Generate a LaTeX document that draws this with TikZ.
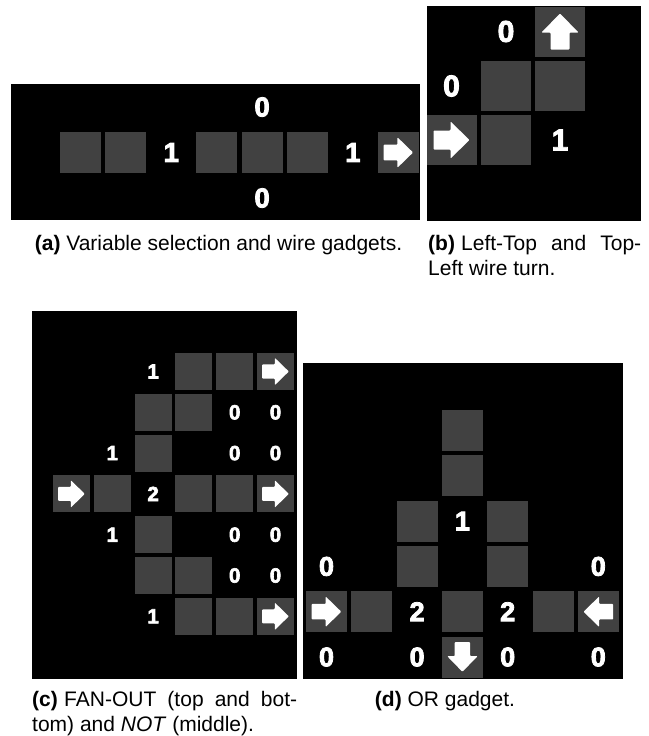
\documentclass[tikz,border=0pt]{standalone}
\usepackage{fontspec}
\setmainfont{Liberation Sans}
\newfontfamily\numfont{Liberation Sans}[BoldFeatures={FakeBold=3}]
\definecolor{tile}{HTML}{414141}

\tikzset{tnode/.style = {shape = rectangle,
                         fill = tile,
                         inner sep = 0pt,
                         minimum size = #1},
         lnode/.style = {text = white,
                         inner sep = 0pt,
                         font = \numfont\bfseries\fontsize{#1}{#1}\selectfont},
         board/.style = {fill = black},
         capnode/.style = {inner sep = 0pt,
                           anchor = base west,
                           font = \fontsize{21}{25}\selectfont},
         warrow/.pic = {\fill[white, rounded corners = 0.8pt]
                          (-0.36,0.19) -- (-0.02,0.19) -- (-0.02,0.37) -- (0.36,0)
                          -- (-0.02,-0.37) -- (-0.02,-0.19) -- (-0.36,-0.19) -- cycle;}}

\begin{document}
\begin{tikzpicture}[x = 1pt, y = -1pt]
  \useasboundingbox (0,0) rectangle (648,736);

  \fill[board] (11,84) rectangle (420,220);
  \node[tnode=41] (a1) at (80.5,152.5) {};
  \node[tnode=41] (a2) at (125.9,152.5) {};
  \node[lnode=27.5] (a3) at (171.3,152.5) {1};
  \node[tnode=41] (a4) at (216.7,152.5) {};
  \node[tnode=41] (a5) at (262.1,152.5) {};
  \node[tnode=41] (a6) at (307.5,152.5) {};
  \node[lnode=27.5] (a7) at (352.9,152.5) {1};
  \node[tnode=41] (a8) at (398.3,152.5) {};
  \node[lnode=27.5] (a9) at (262.1,107) {0};
  \node[lnode=27.5] (a10) at (262.1,198) {0};
  \pic[scale=41] at (a8) {warrow};

  \fill[board] (427,6) rectangle (641,221);
  \node[lnode=30] (b1) at (506,31.5) {0};
  \node[tnode=50] (b2) at (560,31.5) {};
  \node[lnode=30] (b3) at (451.5,86) {0};
  \node[tnode=50] (b4) at (506,86) {};
  \node[tnode=50] (b5) at (560,86) {};
  \node[tnode=50] (b6) at (451.5,140) {};
  \node[tnode=50] (b7) at (506,140) {};
  \node[lnode=30] (b8) at (560,140) {1};
  \pic[scale=50, rotate=90] at (b2) {warrow};
  \pic[scale=50] at (b6) {warrow};

  \fill[board] (32,311) rectangle (297,679);
  \node[lnode=20.5] (c1) at (153.1,371.5) {1};
  \node[tnode=37] (c2) at (193.9,371.5) {};
  \node[tnode=37] (c3) at (234.7,371.5) {};
  \node[tnode=37] (c4) at (275.5,371.5) {};
  \node[tnode=37] (c5) at (153.1,412.3) {};
  \node[tnode=37] (c6) at (193.9,412.3) {};
  \node[lnode=20.5] (c7) at (234.7,412.3) {0};
  \node[lnode=20.5] (c8) at (275.5,412.3) {0};
  \node[lnode=20.5] (c9) at (112.3,453.1) {1};
  \node[tnode=37] (c10) at (153.1,453.1) {};
  \node[lnode=20.5] (c11) at (234.7,453.1) {0};
  \node[lnode=20.5] (c12) at (275.5,453.1) {0};
  \node[tnode=37] (c13) at (71.5,493.9) {};
  \node[tnode=37] (c14) at (112.3,493.9) {};
  \node[lnode=20.5] (c15) at (153.1,493.9) {2};
  \node[tnode=37] (c16) at (193.9,493.9) {};
  \node[tnode=37] (c17) at (234.7,493.9) {};
  \node[tnode=37] (c18) at (275.5,493.9) {};
  \node[lnode=20.5] (c19) at (112.3,534.7) {1};
  \node[tnode=37] (c20) at (153.1,534.7) {};
  \node[lnode=20.5] (c21) at (234.7,534.7) {0};
  \node[lnode=20.5] (c22) at (275.5,534.7) {0};
  \node[tnode=37] (c23) at (153.1,575.5) {};
  \node[tnode=37] (c24) at (193.9,575.5) {};
  \node[lnode=20.5] (c25) at (234.7,575.5) {0};
  \node[lnode=20.5] (c26) at (275.5,575.5) {0};
  \node[lnode=20.5] (c27) at (153.1,616.3) {1};
  \node[tnode=37] (c28) at (193.9,616.3) {};
  \node[tnode=37] (c29) at (234.7,616.3) {};
  \node[tnode=37] (c30) at (275.5,616.3) {};
  \pic[scale=37] at (c4) {warrow};
  \pic[scale=37] at (c13) {warrow};
  \pic[scale=37] at (c18) {warrow};
  \pic[scale=37] at (c30) {warrow};

  \fill[board] (303,363) rectangle (623,679);
  \node[tnode=41] (d1) at (462.4,430.5) {};
  \node[tnode=41] (d2) at (462.4,475.8) {};
  \node[tnode=41] (d3) at (417.1,521.1) {};
  \node[lnode=27] (d4) at (462.4,521.1) {1};
  \node[tnode=41] (d5) at (507.7,521.1) {};
  \node[lnode=27] (d6) at (326.5,566.4) {0};
  \node[tnode=41] (d7) at (417.1,566.4) {};
  \node[tnode=41] (d8) at (507.7,566.4) {};
  \node[lnode=27] (d9) at (598.3,566.4) {0};
  \node[tnode=41] (d10) at (326.5,611.7) {};
  \node[tnode=41] (d11) at (371.8,611.7) {};
  \node[lnode=27] (d12) at (417.1,611.7) {2};
  \node[tnode=41] (d13) at (462.4,611.7) {};
  \node[lnode=27] (d14) at (507.7,611.7) {2};
  \node[tnode=41] (d15) at (553,611.7) {};
  \node[tnode=41] (d16) at (598.3,611.7) {};
  \node[lnode=27] (d17) at (326.5,657) {0};
  \node[lnode=27] (d18) at (417.1,657) {0};
  \node[tnode=41] (d19) at (462.4,657) {};
  \node[lnode=27] (d20) at (507.7,657) {0};
  \node[lnode=27] (d21) at (598.3,657) {0};
  \pic[scale=41] at (d10) {warrow};
  \pic[scale=41, rotate=180] at (d16) {warrow};
  \pic[scale=41, rotate=270] at (d19) {warrow};

  \node[capnode, anchor=base] (capa) at (218.5,250) {\textbf{(a)} Variable selection and wire gadgets.};
  \node[capnode, text width=213, align=justify] (capb) at (428,250)
    {\hangindent=33pt\hangafter=1\makebox[33pt][l]{\textbf{(b)}}Left-Top and Top-\linebreak Left wire turn.};
  \node[capnode, text width=265, align=justify] (capc) at (32,706)
    {\hangindent=32pt\hangafter=1\makebox[32pt][l]{\textbf{(c)}}FAN-OUT (top and bot-\linebreak tom) and \textit{NOT} (middle).};
  \node[capnode, anchor=base] (capd) at (445,706) {\textbf{(d)} OR gadget.};
\end{tikzpicture}
\end{document}
